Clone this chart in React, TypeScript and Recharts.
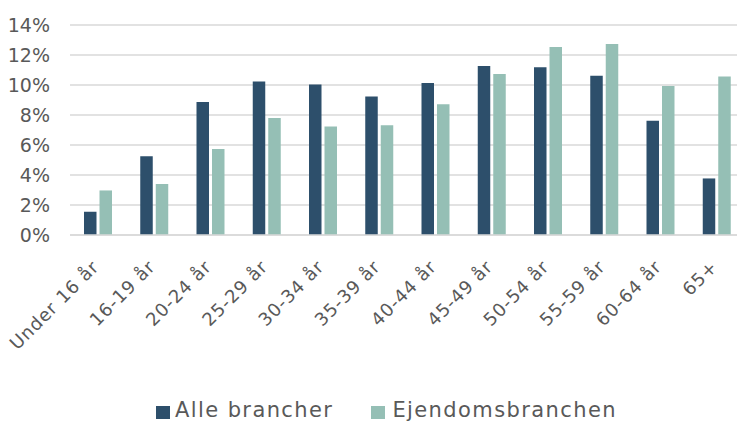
import React from 'react';
import { BarChart, Bar, XAxis, YAxis, CartesianGrid, Legend } from 'recharts';

const categories = [
  'Under 16 år', '16-19 år', '20-24 år', '25-29 år', '30-34 år', '35-39 år',
  '40-44 år', '45-49 år', '50-54 år', '55-59 år', '60-64 år', '65+',
];
const alleBrancher = [1.55, 5.25, 8.87, 10.24, 10.04, 9.24, 10.13, 11.27, 11.18, 10.62, 7.62, 3.77];
const ejendomsbranchen = [2.97, 3.4, 5.73, 7.8, 7.24, 7.31, 8.71, 10.73, 12.53, 12.73, 9.93, 10.56];
const yTicks = [0, 2, 4, 6, 8, 10, 12, 14];

const DARK = '#2d4f6b';
const GREEN = '#95bfb5';
const FONT = '"DejaVu Sans", sans-serif';
const TEXT = '#595959';

const data = categories.map((c, i) => ({
  name: c,
  alle: alleBrancher[i],
  ejendom: ejendomsbranchen[i],
}));

// rotated category labels, end of text sits just under the tick
const AngledTick = (props: any) => {
  const { x, y, payload } = props;
  const ax = x + 2;
  const ay = y + 25;
  return (
    <text
      x={ax}
      y={ay}
      textAnchor="end"
      transform={`rotate(-45, ${ax}, ${ay})`}
      fontSize={18}
      letterSpacing={0.9}
      fontFamily={FONT}
      fill={TEXT}
    >
      {payload.value}
    </text>
  );
};

const LegendContent = (props: any) => {
  const { payload } = props;
  return (
    <div style={{ display: 'flex', paddingLeft: 156, height: 21, lineHeight: '21px' }}>
      {payload.map((entry: any, i: number) => (
        <div key={i} style={{ display: 'flex', alignItems: 'center', marginRight: i === 0 ? 38 : 0 }}>
          <span style={{ display: 'inline-block', width: 14, height: 13, background: entry.color, marginRight: i === 0 ? 5 : 7, marginTop: 4 }} />
          <span style={{ fontSize: 21, fontFamily: FONT, color: TEXT, letterSpacing: 1.4 }}>{entry.value}</span>
        </div>
      ))}
    </div>
  );
};

export default function App() {
  return (
    <div style={{ position: 'absolute', left: 0, top: 0, width: 737, height: 421, overflow: 'hidden', background: '#fff' }}>
      <BarChart
        width={745}
        height={421}
        data={data}
        margin={{ top: 25, right: 0, bottom: 0, left: 0 }}
        barGap={3}
      >
        <CartesianGrid vertical={false} stroke="#d9d9d9" strokeWidth={1.5} />
        <XAxis
          dataKey="name"
          interval={0}
          tick={<AngledTick />}
          tickLine={false}
          axisLine={{ stroke: '#d9d9d9', strokeWidth: 1.5 }}
          height={165}
        />
        <YAxis
          domain={[0, 14]}
          ticks={yTicks}
          tickFormatter={(v) => `${v}%`}
          tickLine={false}
          axisLine={false}
          tickSize={0}
          tickMargin={20}
          width={70}
          tick={{ fontSize: 19, fontFamily: FONT, fill: TEXT }}
        />
        <Legend verticalAlign="bottom" height={21} content={<LegendContent />} />
        <Bar dataKey="alle" name="Alle brancher" fill={DARK} barSize={12.5} isAnimationActive={false} />
        <Bar dataKey="ejendom" name="Ejendomsbranchen" fill={GREEN} barSize={12.5} isAnimationActive={false} />
      </BarChart>
    </div>
  );
}
